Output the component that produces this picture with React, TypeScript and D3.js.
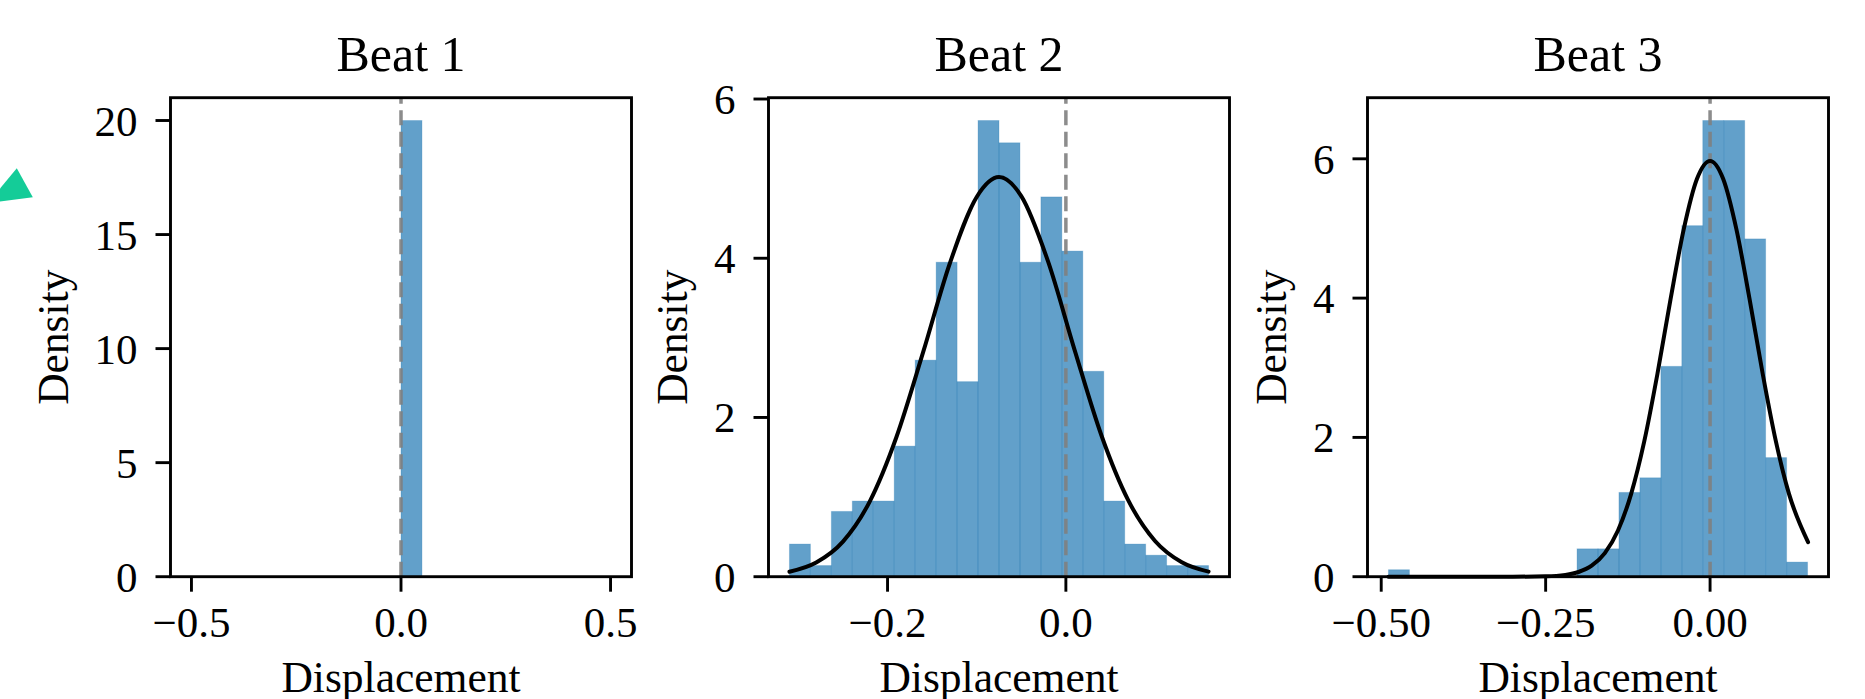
import React from 'react';
import * as d3 from 'd3';

// histogram data (density)
const TITLES = ['Beat 1', 'Beat 2', 'Beat 3'];

const BEAT1_BIN_START = -0.5;
const BEAT1_BIN_WIDTH = 0.05;
const BEAT1_DENSITY = [0, 0, 0, 0, 0, 0, 0, 0, 0, 0, 20, 0, 0, 0, 0, 0, 0, 0, 0, 0];

const BEAT2_BIN_START = -0.31;
const BEAT2_BIN_WIDTH = 0.0235;
const BEAT2_DENSITY = [0.41, 0.14, 0.82, 0.95, 0.95, 1.64, 2.72, 3.95, 2.45, 5.73, 5.45, 3.95, 4.77, 4.09, 2.58, 0.95, 0.41, 0.27, 0.14, 0.14];
const BEAT2_CURVE_X = [-0.31, -0.28, -0.25, -0.22, -0.19, -0.16, -0.13, -0.1, -0.075, -0.05, -0.02, 0.01, 0.04, 0.07, 0.1, 0.13, 0.16];
const BEAT2_CURVE_Y = [0.063, 0.179, 0.441, 0.944, 1.755, 2.823, 3.94, 4.77, 5.02, 4.78, 3.96, 2.84, 1.77, 0.958, 0.449, 0.182, 0.064];

const BEAT3_BIN_START = -0.489;
const BEAT3_BIN_WIDTH = 0.03186;
const BEAT3_DENSITY = [0.1, 0, 0, 0, 0, 0, 0, 0, 0, 0.4, 0.4, 1.21, 1.42, 3.02, 5.04, 6.55, 6.55, 4.85, 1.71, 0.21];
const BEAT3_CURVE_X = [-0.489, -0.4, -0.3, -0.25, -0.22, -0.2, -0.18, -0.16, -0.14, -0.12, -0.1, -0.08, -0.06, -0.04, -0.02, 0, 0.02, 0.04, 0.06, 0.08, 0.1, 0.12, 0.149];
const BEAT3_CURVE_Y = [0, 0, 0.0003, 0.0054, 0.026, 0.0675, 0.158, 0.339, 0.664, 1.19, 1.946, 2.914, 3.99, 4.99, 5.71, 5.97, 5.71, 4.99, 3.99, 2.914, 1.946, 1.19, 0.497];

const BEAT1_X_TICKS = [-0.5, 0, 0.5];
const BEAT1_X_LABELS = ['\u22120.5', '0.0', '0.5'];
const BEAT1_Y_TICKS = [0, 5, 10, 15, 20];

const BEAT2_X_TICKS = [-0.2, 0];
const BEAT2_X_LABELS = ['\u22120.2', '0.0'];
const BEAT2_Y_TICKS = [0, 2, 4, 6];

const BEAT3_X_TICKS = [-0.5, -0.25, 0];
const BEAT3_X_LABELS = ['\u22120.50', '\u22120.25', '0.00'];
const BEAT3_Y_TICKS = [0, 2, 4, 6];

const panels = [
  { title: TITLES[0], start: BEAT1_BIN_START, width: BEAT1_BIN_WIDTH, density: BEAT1_DENSITY, cx: null, cy: null, xTicks: BEAT1_X_TICKS, xLabels: BEAT1_X_LABELS, yTicks: BEAT1_Y_TICKS },
  { title: TITLES[1], start: BEAT2_BIN_START, width: BEAT2_BIN_WIDTH, density: BEAT2_DENSITY, cx: BEAT2_CURVE_X, cy: BEAT2_CURVE_Y, xTicks: BEAT2_X_TICKS, xLabels: BEAT2_X_LABELS, yTicks: BEAT2_Y_TICKS },
  { title: TITLES[2], start: BEAT3_BIN_START, width: BEAT3_BIN_WIDTH, density: BEAT3_DENSITY, cx: BEAT3_CURVE_X, cy: BEAT3_CURVE_Y, xTicks: BEAT3_X_TICKS, xLabels: BEAT3_X_LABELS, yTicks: BEAT3_Y_TICKS },
];

const W = 1865;
const H = 699;
const LEFTS = [170.5, 768.5, 1367.5];
const PW = 461;
const TOP = 97.7;
const BOTTOM = 576.7;
const FONT = "'Liberation Serif', 'Times New Roman', serif";
const TICK_FS = 43;
const LABEL_FS = 43.5;
const TITLE_FS = 50;
const LW = 2.9;

function Panel({ p, left }: any) {
  const n = p.density.length;
  const lo = p.start;
  const hi = p.start + n * p.width;
  const pad = (hi - lo) * 0.05;
  const x = d3.scaleLinear().domain([lo - pad, hi + pad]).range([left, left + PW]);
  const y = d3.scaleLinear().domain([0, (d3.max(p.density) as number) * 1.05]).range([BOTTOM, TOP]);

  const line = d3.line<number>()
    .x((d, i) => x(p.cx[i]))
    .y(d => y(d))
    .curve(d3.curveMonotoneX);

  const maxLabelLen = d3.max(p.yTicks, (t: number) => String(t).length) as number;
  const yLabelX = left - 33 - maxLabelLen * 21 - 28;
  const midX = left + PW / 2;
  const midY = (TOP + BOTTOM) / 2;

  return (
    <g>
      {p.density.map((d: number, i: number) => d > 0 && (
        <rect key={i}
          x={x(lo + i * p.width)} width={x(lo + (i + 1) * p.width) - x(lo + i * p.width)}
          y={y(d)} height={y(0) - y(d)}
          fill="#1f77b4" fillOpacity={0.7}
          stroke="#1f77b4" strokeOpacity={0.25} strokeWidth={1} />
      ))}
      <line x1={x(0)} x2={x(0)} y1={BOTTOM} y2={TOP}
        stroke="#7f7f7f" strokeOpacity={0.9} strokeWidth={3.5} strokeDasharray="15 6.5" />
      {p.cy && (
        <path d={line(p.cy) || ''} fill="none" stroke="#000" strokeWidth={4} strokeLinecap="round" />
      )}
      <rect x={left} y={TOP} width={PW} height={BOTTOM - TOP} fill="none" stroke="#000" strokeWidth={LW} />
      {p.xTicks.map((t: number, i: number) => (
        <g key={i}>
          <line x1={x(t)} x2={x(t)} y1={BOTTOM} y2={BOTTOM + 15} stroke="#000" strokeWidth={LW} />
          <text x={x(t)} y={637} textAnchor="middle" fontFamily={FONT} fontSize={TICK_FS}>{p.xLabels[i]}</text>
        </g>
      ))}
      {p.yTicks.map((t: number) => (
        <g key={t}>
          <line x1={left - 15} x2={left} y1={y(t)} y2={y(t)} stroke="#000" strokeWidth={LW} />
          <text x={left - 33} y={y(t) + 15} textAnchor="end" fontFamily={FONT} fontSize={TICK_FS}>{t}</text>
        </g>
      ))}
      <text x={midX} y={70.7} textAnchor="middle" fontFamily={FONT} fontSize={TITLE_FS}>{p.title}</text>
      <text x={midX} y={692} textAnchor="middle" fontFamily={FONT} fontSize={LABEL_FS}>Displacement</text>
      <text transform={`translate(${yLabelX},${midY}) rotate(-90)`} textAnchor="middle"
        fontFamily={FONT} fontSize={LABEL_FS}>Density</text>
    </g>
  );
}

export default function App() {
  return (
    <svg width={W} height={H} style={{ position: 'absolute', left: 0, top: 0, background: '#fff' }}>
      <rect width={W} height={H} fill="#fff" />
      <polygon points="-12,203 16.8,168.3 32.8,197.3" fill="#14cc98" />
      {panels.map((p, i) => <Panel key={i} p={p} left={LEFTS[i]} />)}
    </svg>
  );
}
